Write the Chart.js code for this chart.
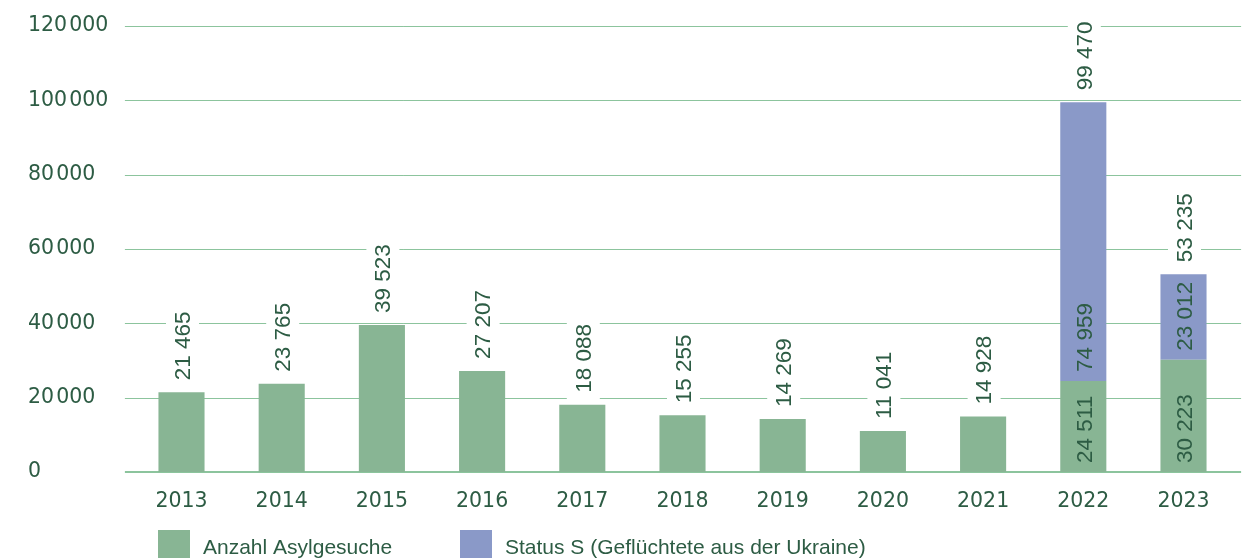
<!DOCTYPE html>
<html>
<head>
<meta charset="utf-8">
<script src="https://cdn.jsdelivr.net/npm/chart.js@4.4.0/dist/chart.umd.min.js"></script>
<style>
html,body{margin:0;padding:0;background:#fff;}
#wrap{width:1249px;height:558px;position:relative;}
</style>
</head>
<body>
<div id="wrap"><canvas id="c" width="1249" height="558"></canvas></div>
<script>
const years = ['2013','2014','2015','2016','2017','2018','2019','2020','2021','2022','2023'];
const asylgesuche = [21465, 23765, 39523, 27207, 18088, 15255, 14269, 11041, 14928, 24511, 30223];
const statusS = [null, null, null, null, null, null, null, null, null, 74959, 23012];
const yTicks = [0, 20000, 40000, 60000, 80000, 100000, 120000];
const seriesNames = ['Anzahl Asylgesuche', 'Status S (Geflüchtete aus der Ukraine)'];

const GREEN = '#88b594';
const PURPLE = '#8a99c8';
const TEXT = '#2d5c44';
const GRID = '#8cc49d';
const AXIS_FONT = '"DejaVu Sans", "Liberation Sans", sans-serif';

function fmt(v, sep) {
  return String(v).replace(/\B(?=(\d{3})+(?!\d))/g, sep);
}

const gridPlugin = {
  id: 'extGrid',
  beforeDatasetsDraw(chart) {
    const {ctx, chartArea, scales} = chart;
    const y = scales.y;
    ctx.save();
    ctx.strokeStyle = GRID;
    y.ticks.forEach(t => {
      const py = Math.round(y.getPixelForValue(t.value));
      ctx.lineWidth = t.value === 0 ? 2 : 1;
      ctx.beginPath();
      const off = t.value === 0 ? 0 : 0.5;
      ctx.moveTo(chartArea.left - 6.5, py + off);
      ctx.lineTo(chartArea.right + 7.5, py + off);
      ctx.stroke();
    });
    ctx.restore();
  }
};

const labelPlugin = {
  id: 'valLabels',
  afterDatasetsDraw(chart) {
    const {ctx} = chart;
    const m0 = chart.getDatasetMeta(0);
    const m1 = chart.getDatasetMeta(1);
    ctx.save();
    ctx.font = '22.5px "Liberation Sans", Arial, sans-serif';
    ctx.fillStyle = TEXT;
    const drawRot = (text, x, yBottom, box) => {
      const w = ctx.measureText(text).width;
      ctx.save();
      ctx.translate(x, yBottom);
      ctx.rotate(-Math.PI / 2);
      if (box) {
        ctx.fillStyle = '#fff';
        ctx.fillRect(-7, -16.5, w + 14, 33);
      }
      ctx.fillStyle = TEXT;
      ctx.textAlign = 'left';
      ctx.textBaseline = 'middle';
      ctx.fillText(text, 0, 1);
      ctx.restore();
    };
    years.forEach((yr, i) => {
      const a = asylgesuche[i];
      const s = statusS[i];
      const e0 = m0.data[i];
      if (s == null) {
        drawRot(fmt(a, ' '), e0.x + 1, e0.y - 12, true);
      } else {
        const e1 = m1.data[i];
        drawRot(fmt(a, ' '), e0.x + 1, e0.base - 9, false);
        drawRot(fmt(s, ' '), e1.x + 1, e1.base - 9, false);
        drawRot(fmt(a + s, ' '), e1.x + 1, e1.y - 12, true);
      }
    });
    ctx.restore();
  }
};

const legendPlugin = {
  id: 'customLegend',
  afterDraw(chart) {
    const {ctx} = chart;
    const items = [
      {x: 158, color: GREEN, label: chart.data.datasets[0].label},
      {x: 460, color: PURPLE, label: chart.data.datasets[1].label}
    ];
    ctx.save();
    ctx.font = '21px "Liberation Sans", Arial, sans-serif';
    ctx.textBaseline = 'middle';
    items.forEach(it => {
      ctx.fillStyle = it.color;
      ctx.fillRect(it.x, 530, 32, 32);
      ctx.fillStyle = TEXT;
      ctx.fillText(it.label, it.x + 45, 548);
    });
    ctx.restore();
  }
};

new Chart(document.getElementById('c'), {
  type: 'bar',
  data: {
    labels: years,
    datasets: [
      {label: seriesNames[0], data: asylgesuche, backgroundColor: GREEN, barPercentage: 0.46, categoryPercentage: 1},
      {label: seriesNames[1], data: statusS, backgroundColor: PURPLE, barPercentage: 0.46, categoryPercentage: 1}
    ]
  },
  options: {
    responsive: false,
    animation: false,
    devicePixelRatio: 1,
    layout: {padding: {left: 28, right: 15.4, top: 26, bottom: 0}},
    plugins: {legend: {display: false}, tooltip: {enabled: false}},
    scales: {
      x: {
        stacked: true,
        grid: {display: false},
        border: {display: false},
        ticks: {color: TEXT, font: {family: AXIS_FONT, size: 20.5}, padding: 9},
        afterFit(s) { s.height = 86; }
      },
      y: {
        stacked: true,
        min: 0, max: 120000,
        afterBuildTicks(s) { s.ticks = yTicks.map(v => ({value: v})); },
        grid: {display: false},
        border: {display: false},
        ticks: {
          color: TEXT,
          crossAlign: 'far',
          font: {family: AXIS_FONT, size: 20.5},
          callback: v => fmt(v, '\u200A')
        },
        afterFit(s) { s.width = 103.4; }
      }
    }
  },
  plugins: [gridPlugin, labelPlugin, legendPlugin]
});
</script>
</body>
</html>
